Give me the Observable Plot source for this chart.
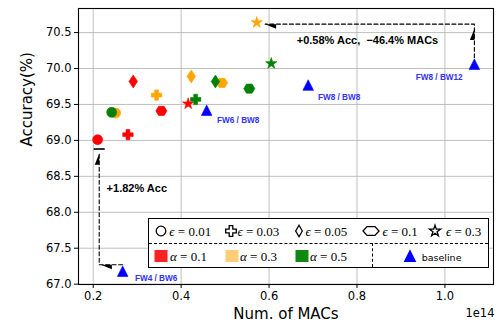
<!DOCTYPE html>
<html><head><meta charset="utf-8">
<script src="https://cdn.jsdelivr.net/npm/d3@7"></script>
<script src="https://cdn.jsdelivr.net/npm/@observablehq/plot@0.6"></script>
<style>
body{margin:0;background:#fff;}
#wrap{position:relative;width:503px;height:329px;overflow:hidden;font-family:"DejaVu Sans",sans-serif;background:#fff;}
#legend{position:absolute;left:147.5px;top:217.5px;width:341px;height:50px;box-sizing:border-box;border:1.2px solid #000;background:#fff;}
.lg{position:absolute;white-space:nowrap;line-height:1;}
.math{font-family:"Liberation Serif","DejaVu Serif",serif;font-size:13px;color:#000;}
.math i{font-style:italic;}
</style></head><body><div id="wrap"></div>
<script>
// ---------------- data ----------------
const epsilons = ["0.01", "0.03", "0.05", "0.1", "0.3"];
const alphas = ["0.1", "0.3", "0.5"];
// MACs (x 1e14) and accuracy (%) for each epsilon, one pair of arrays per alpha
const macsAlpha01 = [0.210, 0.279, 0.291, 0.355, 0.416];
const accAlpha01  = [69.01, 69.08, 69.82, 69.41, 69.51];
const macsAlpha03 = [0.251, 0.344, 0.423, 0.493, 0.572];
const accAlpha03  = [69.38, 69.63, 69.89, 69.80, 70.64];
const macsAlpha05 = [0.242, 0.433, 0.478, 0.555, 0.605];
const accAlpha05  = [69.39, 69.57, 69.82, 69.72, 70.07];
const baselineLabels = ["FW4 / BW6", "FW6 / BW8", "FW8 / BW8", "FW8 / BW12"];
const baselineMacs = [0.267, 0.458, 0.689, 1.067];
const baselineAcc  = [67.18, 69.42, 69.77, 70.06];
const xTicks = [0.2, 0.4, 0.6, 0.8, 1.0];
const yTicks = [67.0, 67.5, 68.0, 68.5, 69.0, 69.5, 70.0, 70.5];
// annotation arrows (data coordinates) and texts
const arrowIds = ["macs", "macs", "macs", "acc", "acc", "acc"];
const arrowX = [1.067, 1.067, 0.591, 0.267, 0.2136, 0.2136];
const arrowY = [70.06, 70.617, 70.617, 67.27, 67.27, 68.815];
const headX = [0.591, 1.067, 0.2174, 0.2136];
const headY = [70.617, 70.55, 67.27, 68.815];
const headDir = ["left", "up", "left", "up"];
const barX = [0.2136];
const barY = [68.88];
const noteTexts = ["+0.58% Acc,  \u221246.4% MACs", "+1.82% Acc"];
const noteX = [0.663, 0.2304];
const noteY = [70.394, 68.325];

// ---------------- styles ----------------
const alphaColors = {"0.1": "#ff0000", "0.3": "#ffa500", "0.5": "#008000"};
const alphaPatch = {"0.1": "#fa2222", "0.3": "#ffcc77", "0.5": "#118811"};
const labelOffsets = [[12.3, 7], [10.4, 10], [9.7, 12], [-58.6, 12.7]];

function poly(ctx, pts) { ctx.moveTo(pts[0][0], pts[0][1]); for (let i = 1; i < pts.length; i++) ctx.lineTo(pts[i][0], pts[i][1]); ctx.closePath(); }
function mkCircle(r) { return {draw(ctx) { ctx.moveTo(r, 0); ctx.arc(0, 0, r, 0, 2 * Math.PI); ctx.closePath(); }}; }
function mkPlus(h, t) { return {draw(ctx) { poly(ctx, [[-t,-h],[t,-h],[t,-t],[h,-t],[h,t],[t,t],[t,h],[-t,h],[-t,t],[-h,t],[-h,-t],[-t,-t]]); }}; }
function mkDiamond(w, h) { return {draw(ctx) { poly(ctx, [[0,-h],[w,0],[0,h],[-w,0]]); }}; }
function mkHex(rx, ry) { return {draw(ctx) { const p = []; for (let k = 0; k < 6; k++) { const a = k * Math.PI / 3; p.push([rx * Math.cos(a), ry * Math.sin(a)]); } poly(ctx, p); }}; }
function mkStar(R) { return {draw(ctx) { const p = []; const r = R * 0.381966; for (let k = 0; k < 10; k++) { const a = -Math.PI / 2 + k * Math.PI / 5; const rr = k % 2 ? r : R; p.push([rr * Math.cos(a), rr * Math.sin(a)]); } poly(ctx, p); }}; }
function mkTri(h) { return {draw(ctx) { poly(ctx, [[0,-h],[h,h],[-h,h]]); }}; }
const halfHead = {draw(ctx) { poly(ctx, [[0,0],[0,11],[-4.5,11]]); }};
const barSym = {draw(ctx) { poly(ctx, [[-5.5,-0.8],[5.5,-0.8],[5.5,0.8],[-5.5,0.8]]); }};

const plotSymbols = [mkCircle(5), mkPlus(5.2, 1.9), mkDiamond(4.3, 6.5), mkHex(5.6, 5.3), mkStar(6), ];
const legendSymbols = [mkCircle(4.8), mkPlus(5.3, 1.8), mkDiamond(3.3, 5.8), mkHex(8, 5), mkStar(5.8)];
const triSym = mkTri(5.3);

// ---------------- build tables ----------------
const seriesMacs = {"0.1": macsAlpha01, "0.3": macsAlpha03, "0.5": macsAlpha05};
const seriesAcc = {"0.1": accAlpha01, "0.3": accAlpha03, "0.5": accAlpha05};
const points = [];
alphas.forEach(a => epsilons.forEach((e, i) => points.push({alpha: a, eps: e, ei: i, x: seriesMacs[a][i], y: seriesAcc[a][i]})));
const baselines = baselineLabels.map((l, i) => ({label: l, x: baselineMacs[i], y: baselineAcc[i], i}));
const arrowPts = arrowIds.map((id, i) => ({id, x: arrowX[i], y: arrowY[i]}));
const heads = headX.map((x, i) => ({x, y: headY[i], rot: headDir[i] === "left" ? -90 : 0}));
const bars = barX.map((x, i) => ({x, y: barY[i]}));
const notes = noteTexts.map((t, i) => ({t, x: noteX[i], y: noteY[i]}));

const marks = [
  Plot.gridX(xTicks, {stroke: "#b8b8b8", strokeOpacity: 1, strokeWidth: 0.9}),
  Plot.gridY(yTicks, {stroke: "#b8b8b8", strokeOpacity: 1, strokeWidth: 0.9}),
  Plot.axisX({ticks: xTicks, tickFormat: d => d.toFixed(1), tickSize: 4, tickPadding: 3, fontSize: 11.5, label: null}),
  Plot.axisY({ticks: yTicks, tickFormat: d => d.toFixed(1), tickSize: 4, tickPadding: 3, fontSize: 11.5, label: null}),
  Plot.line(arrowPts, {x: "x", y: "y", z: "id", stroke: "black", strokeWidth: 1.1, strokeDasharray: "4,2.5", curve: "linear"}),
  Plot.dot(heads, {x: "x", y: "y", rotate: "rot", symbol: halfHead, fill: "black", stroke: "none"}),
  Plot.dot(bars, {x: "x", y: "y", symbol: barSym, fill: "black", stroke: "none"})
];
alphas.forEach(a => epsilons.forEach((e, i) => {
  marks.push(Plot.dot(points.filter(p => p.alpha === a && p.ei === i), {x: "x", y: "y", symbol: plotSymbols[i], fill: alphaColors[a], stroke: alphaColors[a], strokeWidth: 0.6}));
}));
marks.push(Plot.dot(baselines, {x: "x", y: "y", symbol: triSym, fill: "#0000ff", stroke: "#0000ff", strokeWidth: 0.6}));
baselines.forEach((b, i) => marks.push(Plot.text([b], {x: "x", y: "y", text: "label", dx: labelOffsets[i][0], dy: labelOffsets[i][1], textAnchor: "start", fill: "#3030ff", fontWeight: "bold", fontSize: 8.2, fontFamily: "Liberation Sans, Arial, sans-serif"})));
marks.push(Plot.text(notes, {x: "x", y: "y", text: "t", textAnchor: "start", fill: "black", fontWeight: "bold", fontSize: 11, fontFamily: "Liberation Sans, Arial, sans-serif"}));
marks.push(Plot.frame({stroke: "black", strokeWidth: 1.1}));
marks.push(Plot.text(["Num. of MACs"], {frameAnchor: "bottom", dy: 34, fontSize: 15, fill: "black"}));
marks.push(Plot.text(["Accuracy(%)"], {frameAnchor: "left", dx: -51, rotate: -90, fontSize: 15, fill: "black"}));
marks.push(Plot.text(["1e14"], {frameAnchor: "bottom-right", dx: 1, dy: 32, textAnchor: "end", fontSize: 11.5, fill: "black"}));

const chart = Plot.plot({
  width: 503, height: 329,
  marginLeft: 78, marginRight: 10, marginTop: 8, marginBottom: 45,
  x: {domain: [0.1665, 1.1105]},
  y: {domain: [66.995, 70.835]},
  style: {fontFamily: "DejaVu Sans, sans-serif", color: "black", background: "white", overflow: "visible"},
  marks
});
const wrap = document.getElementById("wrap");
wrap.appendChild(chart);

// ---------------- legend (HTML overlay) ----------------
const legend = document.createElement("div");
legend.id = "legend";
wrap.appendChild(legend);
const L0 = 147.5, T0 = 217.5;
function symSvg(sym, fill, stroke) {
  const p = d3.path(); sym.draw(p);
  return `<svg width="20" height="16" viewBox="-10 -8 20 16" style="display:block"><path d="${p.toString()}" fill="${fill}" stroke="${stroke}" stroke-width="1.3"/></svg>`;
}
function place(html, cx, cy, anchor) {
  const d = document.createElement("div");
  d.className = "lg";
  d.innerHTML = html;
  d.style.left = (cx - L0 - 1) + "px";
  d.style.top = (cy - T0 - 1) + "px";
  d.style.transform = anchor === "center" ? "translate(-50%,-50%)" : "translate(0,-50%)";
  legend.appendChild(d);
}
const row1 = 230.5, row2 = 255.5;
const epsSymX = [161, 230.7, 299.3, 370.7, 435];
const epsTxtX = [169.3, 237.5, 305.5, 382.5, 446];
epsilons.forEach((e, i) => {
  place(symSvg(legendSymbols[i], "white", "black"), epsSymX[i], row1, "center");
  place(`<span class="math"><i>\u03f5</i> = ${e}</span>`, epsTxtX[i], row1 + 0.5, "start");
});
const patchX = [160.5, 231.5, 301.5];
const alphaTxtX = [170, 240, 310];
alphas.forEach((a, i) => {
  place(`<div style="width:13px;height:12px;background:${alphaPatch[a]}"></div>`, patchX[i], row2, "center");
  place(`<span class="math"><i>\u03b1</i> = ${a}</span>`, alphaTxtX[i], row2 + 0.5, "start");
});
place(symSvg(triSym, "#0000ff", "#0000ff"), 410, row2, "center");
place(`<span style="font-family:'DejaVu Sans';font-size:9.5px;color:#000">baseline</span>`, 421.7, row2, "start");
// dashed dividers
const hd = document.createElement("div");
hd.style.cssText = `position:absolute;left:0;right:0;top:${243 - T0 - 1}px;border-top:1.2px dashed #000;`;
legend.appendChild(hd);
const vd = document.createElement("div");
vd.style.cssText = `position:absolute;left:${372.3 - L0 - 1}px;top:${243 - T0 - 1}px;bottom:0;border-left:1.2px dashed #000;`;
legend.appendChild(vd);
</script></body></html>
